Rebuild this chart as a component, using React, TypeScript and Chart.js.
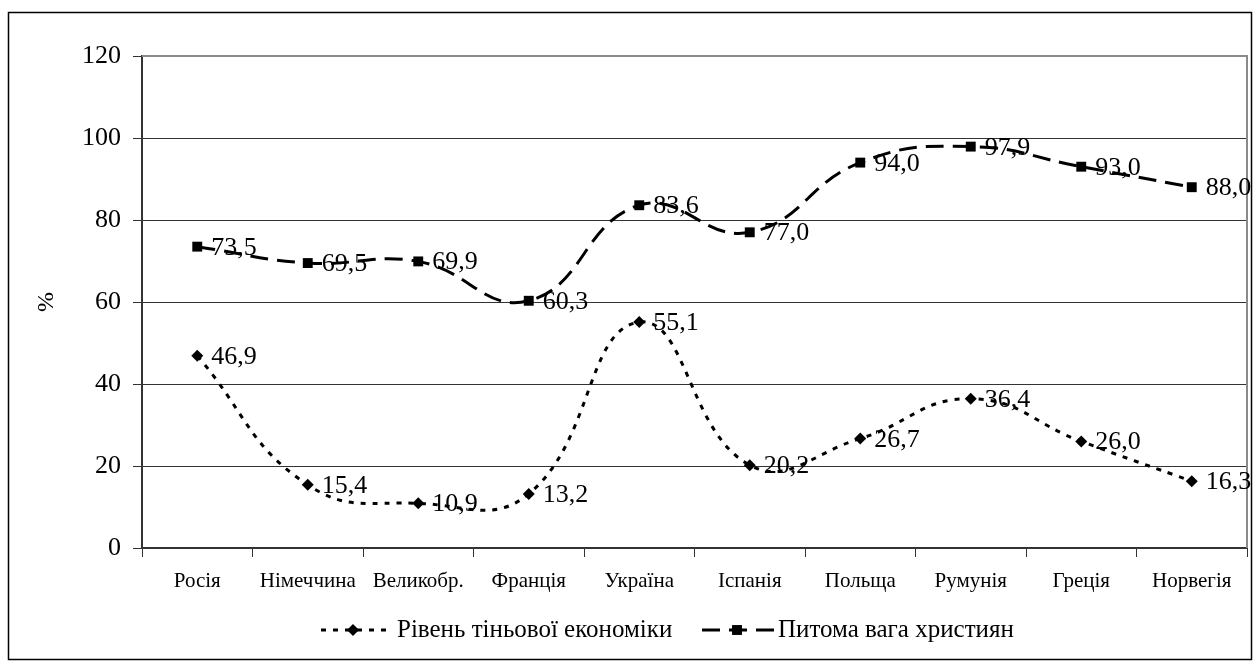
import React, { useEffect, useRef } from "react";
import { Chart, registerables } from "chart.js";

Chart.register(...registerables);

const countries = ["Росія", "Німеччина", "Великобр.", "Франція", "Україна", "Іспанія", "Польща", "Румунія", "Греція", "Норвегія"];
const shadowEconomy = [46.9, 15.4, 10.9, 13.2, 55.1, 20.2, 26.7, 36.4, 26.0, 16.3];
const christianShare = [73.5, 69.5, 69.9, 60.3, 83.6, 77.0, 94.0, 97.9, 93.0, 88.0];
const seriesNames = ["Рівень тіньової економіки", "Питома вага християн"];
const yMin = 0;
const yMax = 120;
const yStep = 20;
const yTitle = "%";

const SERIF = "'Liberation Serif', 'Times New Roman', serif";
const W = 1259;
const H = 666;

const dashShort = [5, 7];
const dashLong = [18, 9];

const fmt = (v: number) => v.toFixed(1).replace(".", ",");

const framePlugin = {
  id: "frame",
  beforeDraw(chart: any) {
    const { ctx } = chart;
    ctx.save();
    ctx.fillStyle = "#fff";
    ctx.fillRect(0, 0, W, H);
    ctx.strokeStyle = "#000";
    ctx.lineWidth = 1.5;
    ctx.strokeRect(8.5, 12.5, 1243, 647);
    ctx.restore();
  },
  beforeDatasetsDraw(chart: any) {
    const { ctx, chartArea } = chart;
    ctx.save();
    ctx.strokeStyle = "#8a8a8a";
    ctx.lineWidth = 2;
    ctx.beginPath();
    ctx.moveTo(chartArea.left, chartArea.top);
    ctx.lineTo(chartArea.right, chartArea.top);
    ctx.lineTo(chartArea.right, chartArea.bottom);
    ctx.stroke();
    ctx.restore();
  },
  afterDraw(chart: any) {
    const { ctx, chartArea } = chart;
    ctx.save();
    // y-axis title
    ctx.fillStyle = "#000";
    ctx.font = `24px ${SERIF}`;
    ctx.textAlign = "center";
    ctx.textBaseline = "middle";
    ctx.translate(47, (chartArea.top + chartArea.bottom) / 2);
    ctx.rotate(-Math.PI / 2);
    ctx.fillText(yTitle, 0, 0);
    ctx.restore();

    // legend
    const items = [
      { start: 321, len: 67, mark: 353, dash: dashShort, style: "rectRot", r: 6, text: seriesNames[0], textX: 397 },
      { start: 702, len: 73, mark: 737, dash: dashLong, style: "rect", r: 7, text: seriesNames[1], textX: 778 },
    ];
    const ly = 630;
    items.forEach((it) => {
      ctx.save();
      ctx.strokeStyle = "#000";
      ctx.lineWidth = 3;
      ctx.setLineDash(it.dash);
      ctx.beginPath();
      ctx.moveTo(it.start, ly);
      ctx.lineTo(it.start + it.len, ly);
      ctx.stroke();
      ctx.setLineDash([]);
      ctx.fillStyle = "#000";
      const cx = it.mark;
      ctx.beginPath();
      if (it.style === "rectRot") {
        ctx.moveTo(cx, ly - it.r);
        ctx.lineTo(cx + it.r, ly);
        ctx.lineTo(cx, ly + it.r);
        ctx.lineTo(cx - it.r, ly);
        ctx.closePath();
      } else {
        const s = it.r * Math.SQRT1_2;
        ctx.rect(cx - s, ly - s, 2 * s, 2 * s);
      }
      ctx.fill();
      ctx.font = `25px ${SERIF}`;
      ctx.textAlign = "left";
      ctx.textBaseline = "alphabetic";
      ctx.fillText(it.text, it.textX, 637);
      ctx.restore();
    });
  },
};

const valueLabelPlugin = {
  id: "valueLabels",
  afterDatasetsDraw(chart: any) {
    const { ctx } = chart;
    ctx.save();
    ctx.fillStyle = "#000";
    ctx.font = `26px ${SERIF}`;
    ctx.textAlign = "left";
    ctx.textBaseline = "alphabetic";
    chart.data.datasets.forEach((ds: any, i: number) => {
      const meta = chart.getDatasetMeta(i);
      meta.data.forEach((pt: any, j: number) => {
        ctx.fillText(fmt(ds.data[j]), pt.x + 14, pt.y + 8);
      });
    });
    ctx.restore();
  },
};

export default function App() {
  const ref = useRef<HTMLCanvasElement | null>(null);

  useEffect(() => {
    if (!ref.current) return;
    const chart = new Chart(ref.current, {
      type: "line",
      data: {
        labels: countries,
        datasets: [
          {
            label: seriesNames[0],
            data: shadowEconomy,
            borderColor: "#000",
            backgroundColor: "#000",
            borderWidth: 3,
            borderDash: dashShort,
            pointStyle: "rectRot",
            pointRadius: 6,
            pointBorderWidth: 0,
            tension: 0.45,
            fill: false,
          },
          {
            label: seriesNames[1],
            data: christianShare,
            borderColor: "#000",
            backgroundColor: "#000",
            borderWidth: 3,
            borderDash: dashLong,
            pointStyle: "rect",
            pointRadius: 7,
            pointBorderWidth: 0,
            tension: 0.45,
            fill: false,
          },
        ],
      },
      options: {
        responsive: false,
        animation: false,
        layout: { padding: { left: 0, top: 56, right: 12, bottom: 0 } },
        plugins: {
          legend: { display: false },
          tooltip: { enabled: false },
        },
        scales: {
          x: {
            offset: true,
            grid: {
              offset: true,
              drawOnChartArea: false,
              drawTicks: true,
              tickLength: 9,
              color: "#333",
            },
            border: { color: "#333", width: 2 },
            ticks: {
              color: "#000",
              font: { family: SERIF, size: 21 },
              padding: 12,
              maxRotation: 0,
              autoSkip: false,
            },
            afterFit(scale: any) {
              scale.height = 118;
            },
          },
          y: {
            min: yMin,
            max: yMax,
            ticks: {
              stepSize: yStep,
              color: "#000",
              font: { family: SERIF, size: 26 },
              padding: 12,
            },
            grid: {
              color: (c: any) => (c.tick && c.tick.value === yMax ? "#8a8a8a" : "#333"),
              tickColor: "#333",
              tickLength: 9,
              lineWidth: 1,
            },
            border: { color: "#333", width: 2 },
            afterFit(scale: any) {
              scale.width = 142;
            },
          },
        },
      },
      plugins: [framePlugin, valueLabelPlugin],
    });
    return () => chart.destroy();
  }, []);

  return (
    <div style={{ position: "absolute", left: 0, top: 0, width: W, height: H, background: "#fff" }}>
      <canvas ref={ref} width={W} height={H} style={{ display: "block" }} />
    </div>
  );
}
